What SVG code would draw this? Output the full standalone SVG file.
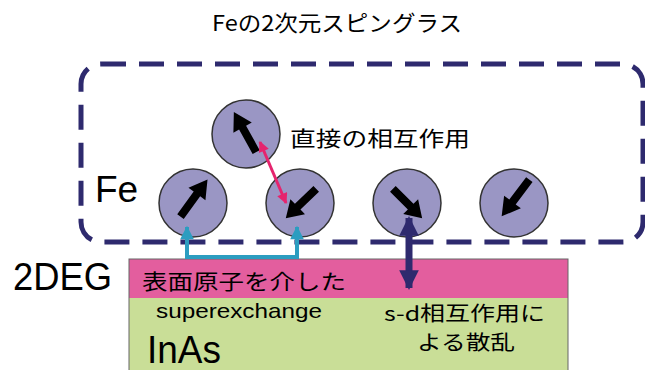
<svg xmlns="http://www.w3.org/2000/svg" width="645" height="370" viewBox="0 0 645 370">
<style>
.t{font-family:"Liberation Sans","Noto Sans CJK JP",sans-serif;fill:#000}
.j{font-family:"Noto Sans CJK JP","Liberation Sans",sans-serif;fill:#000}
.atom{fill:#9A96C4;stroke:#333;stroke-width:1.5}
.spin{fill:#000}
</style>
<defs>
<path id="spin" d="M-23,-4 L5,-4 L5,-10.5 L23,0 L5,10.5 L5,4 L-23,4 Z"/>
<marker id="pk" viewBox="0 0 10 10" refX="9" refY="5" markerWidth="4.5" markerHeight="3.6" orient="auto-start-reverse" markerUnits="strokeWidth">
<path d="M0,0 L10,5 L0,10 Z" fill="#E5246E"/>
</marker>
<marker id="tl" viewBox="0 0 10 10" refX="9" refY="5" markerWidth="3.8" markerHeight="3.4" orient="auto-start-reverse" markerUnits="strokeWidth">
<path d="M0,0 L10,5 L0,10 Z" fill="#2C9DC0"/>
</marker>
<marker id="nv" viewBox="0 0 10 10" refX="9" refY="5" markerWidth="2.8" markerHeight="3" orient="auto-start-reverse" markerUnits="strokeWidth">
<path d="M0,0 L10,5 L0,10 Z" fill="#2E2A6E"/>
</marker>
</defs>

<text class="j" x="337" y="31" font-size="22" text-anchor="middle" textLength="250" lengthAdjust="spacingAndGlyphs">Feの2次元スピングラス</text>

<g id="frame">
<rect x="81" y="64" width="562" height="178" rx="20" fill="none" stroke="#2E2A6E" stroke-width="5" stroke-dasharray="25 13"/>
</g>

<g id="substrate">
<rect x="129" y="259" width="439" height="39" fill="#E35E9E"/>
<rect x="129" y="298" width="439" height="80" fill="#C9DE97"/>
<rect x="129" y="259" width="439" height="120" fill="none" stroke="#666" stroke-width="1"/>
<text class="j" x="142" y="289" font-size="21" textLength="204" lengthAdjust="spacingAndGlyphs">表面原子を介した</text>
<text class="t" x="156" y="318" font-size="21" textLength="166" lengthAdjust="spacingAndGlyphs">superexchange</text>
<text class="t" x="147" y="363" font-size="38" textLength="74" lengthAdjust="spacingAndGlyphs">InAs</text>
<text class="j" x="384" y="321" font-size="20" textLength="161" lengthAdjust="spacingAndGlyphs">s-d相互作用に</text>
<text class="j" x="417" y="350" font-size="20" textLength="98" lengthAdjust="spacingAndGlyphs">よる散乱</text>
</g>

<g id="labels">
<text class="t" x="95" y="202" font-size="37">Fe</text>
<text class="t" x="13" y="290" font-size="38" textLength="99" lengthAdjust="spacingAndGlyphs">2DEG</text>
<text class="j" x="290" y="146" font-size="21" textLength="180" lengthAdjust="spacingAndGlyphs">直接の相互作用</text>
</g>

<g id="atom-top">
<circle class="atom" cx="246" cy="134" r="34"/>
<use href="#spin" class="spin" transform="translate(245,132) rotate(-119)"/>
</g>
<g id="atom-1">
<circle class="atom" cx="193" cy="203" r="34"/>
<use href="#spin" class="spin" transform="translate(194,198) rotate(-54)"/>
</g>
<g id="atom-2">
<circle class="atom" cx="300" cy="203" r="34"/>
<use href="#spin" class="spin" transform="translate(301,203.5) rotate(136) scale(0.92,1)"/>
</g>
<g id="atom-3">
<circle class="atom" cx="407" cy="203" r="34"/>
<use href="#spin" class="spin" transform="translate(407.5,203.5) rotate(45) scale(0.9,1)"/>
</g>
<g id="atom-4">
<circle class="atom" cx="514" cy="203" r="34"/>
<use href="#spin" class="spin" transform="translate(515.5,198) rotate(127)"/>
</g>

<g id="connectors">
<line x1="260" y1="142" x2="286" y2="203" stroke="#E5246E" stroke-width="3" marker-start="url(#pk)" marker-end="url(#pk)"/>
<path d="M187,227 V257 H297 V227" fill="none" stroke="#2C9DC0" stroke-width="4" stroke-linejoin="miter" marker-start="url(#tl)" marker-end="url(#tl)"/>
<line x1="409" y1="218" x2="409" y2="288" stroke="#2E2A6E" stroke-width="7" marker-start="url(#nv)" marker-end="url(#nv)"/>
</g>
</svg>
